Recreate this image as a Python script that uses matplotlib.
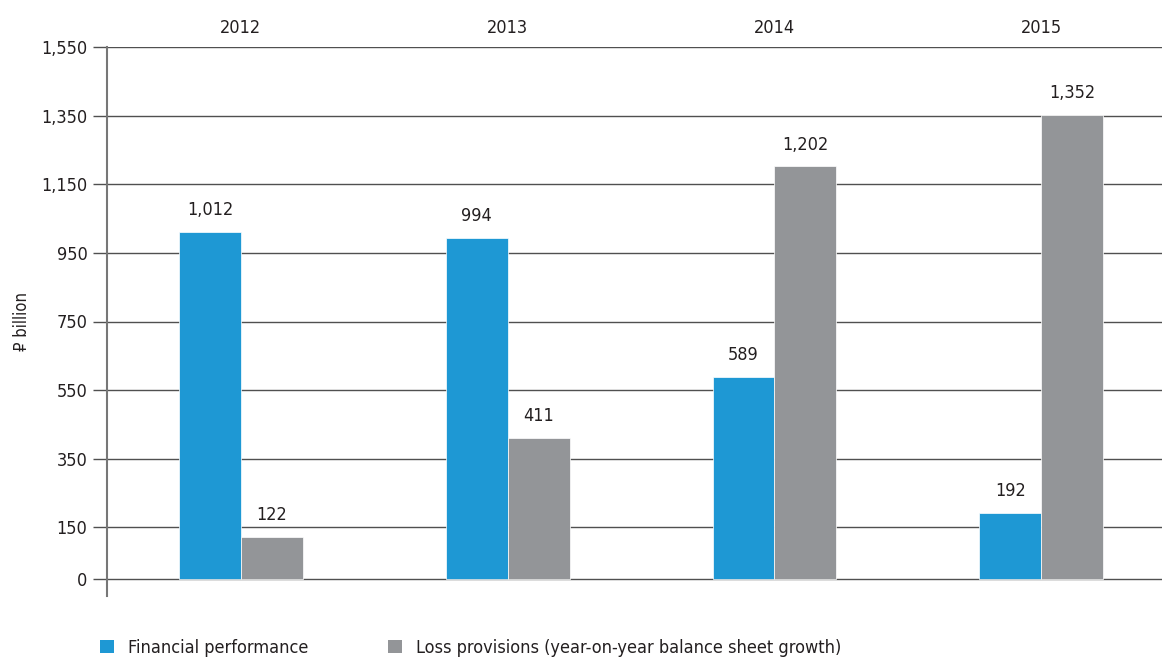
import matplotlib
matplotlib.use("Agg")
import matplotlib.pyplot as plt
from matplotlib.patches import Patch
from matplotlib.transforms import blended_transform_factory
import numpy as np

plt.rcParams['font.family'] = ['DejaVu Sans']
plt.rcParams['font.stretch'] = 'condensed'

years = ["2012", "2013", "2014", "2015"]
financial_performance = [1012, 994, 589, 192]
loss_provisions = [122, 411, 1202, 1352]
series_names = ["Financial performance",
                "Loss provisions (year-on-year balance sheet growth)"]
y_ticks = [0, 150, 350, 550, 750, 950, 1150, 1350, 1550]

blue = "#1e98d4"
grey = "#939598"
text_col = "#231f20"
fs = 13

fig = plt.figure(figsize=(11.62, 6.57), dpi=100)
ax = fig.add_axes([107 / 1162, 1 - 596 / 657, 1 - 107 / 1162, (596 - 47) / 657])

x = np.arange(len(years))
w = 0.232
b1 = ax.bar(x - w / 2, financial_performance, w, color=blue, edgecolor="white",
            linewidth=0.5, zorder=3)
b2 = ax.bar(x + w / 2, loss_provisions, w, color=grey, edgecolor="white",
            linewidth=0.5, zorder=3)

for bars in (b1, b2):
    ax.bar_label(bars, labels=[f"{v:,.0f}" for v in bars.datavalues],
                 padding=9, fontsize=fs, color=text_col)

ax.set_xlim(-0.502, 3.453)
ax.set_ylim(-50, 1550)
ax.set_yticks(y_ticks)
ax.set_yticklabels([f"{v:,}" for v in y_ticks], fontsize=fs, color=text_col)
ax.set_xticks([])
ax.yaxis.grid(True, color="#505050", linewidth=1.0, zorder=0)
ax.set_axisbelow(True)
ax.tick_params(axis="y", length=10, width=1.0, color="#505050", pad=4)

for side in ("top", "right", "bottom"):
    ax.spines[side].set_visible(False)
ax.spines["left"].set_color("#777777")
ax.spines["left"].set_linewidth(1.5)

ax.set_ylabel("₽ billion", fontsize=12, color=text_col)
ax.yaxis.set_label_coords(-0.072, 0.5)

# year headings above each group
trans = blended_transform_factory(ax.transData, ax.transAxes)
for xi, yr in zip(x, years):
    ax.text(xi, 1.035, yr, transform=trans, ha="center", va="center",
            fontsize=fs, color=text_col)

handles = [Patch(facecolor=blue, edgecolor="none"),
           Patch(facecolor=grey, edgecolor="none")]
fig.legend(handles, series_names, loc="lower left",
           bbox_to_anchor=(84 / 1162, -0.025), ncol=2, frameon=False,
           fontsize=fs, handlelength=0.75, handleheight=0.75,
           handletextpad=0.8, columnspacing=4.4, labelcolor=text_col)

fig.savefig("out.png", dpi=100)
